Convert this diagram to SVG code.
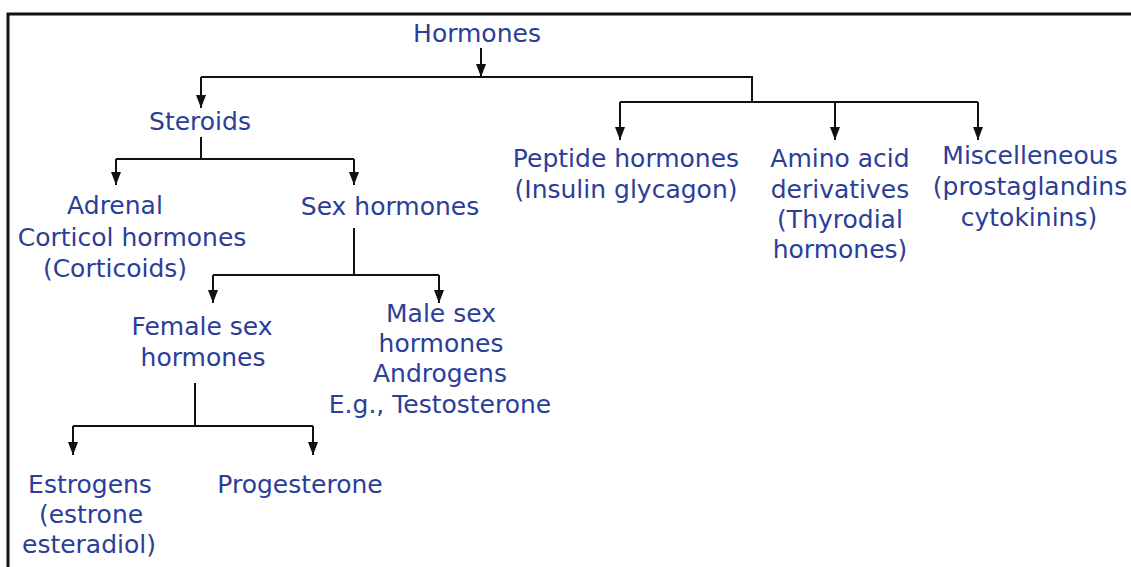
<svg xmlns="http://www.w3.org/2000/svg" width="1131" height="567" viewBox="0 0 1131 567">
<style>
text{font-family:"DejaVu Sans","Verdana",sans-serif;font-size:25px;fill:#2b3e98;text-anchor:middle}
.ln{fill:none;stroke:#111;stroke-width:2}
.ar{fill:none;stroke:#111;stroke-width:2;marker-end:url(#arr)}
</style>
<defs>
<marker id="arr" viewBox="0 -6 14 12" refX="13" refY="0" markerWidth="14" markerHeight="12" markerUnits="userSpaceOnUse" orient="auto">
<path d="M0,-5 L13,0 L0,5 Z" fill="#111"/>
</marker>
</defs>
<rect width="1131" height="567" fill="#fff"/>
<path d="M8,567 V14 H1131" fill="none" stroke="#111" stroke-width="3"/>
<g id="connectors">
<path class="ar" d="M481,48 V77"/>
<path class="ln" d="M201,77 H752 V102"/>
<path class="ar" d="M201,77 V108"/>
<path class="ln" d="M620,102 H978"/>
<path class="ar" d="M620,102 V140"/>
<path class="ar" d="M835,102 V140"/>
<path class="ar" d="M978,102 V140"/>
<path class="ln" d="M201,137 V159 M116,159 H354"/>
<path class="ar" d="M116,159 V185"/>
<path class="ar" d="M354,159 V185"/>
<path class="ln" d="M354,228 V275 M213,275 H439"/>
<path class="ar" d="M213,275 V303"/>
<path class="ar" d="M439,275 V303"/>
<path class="ln" d="M195,383 V426 M73,426 H313"/>
<path class="ar" d="M73,426 V455"/>
<path class="ar" d="M313,426 V455"/>
</g>
<g id="hormones"><text x="477" y="42">Hormones</text></g>
<g id="steroids"><text x="200" y="130">Steroids</text></g>
<g id="adrenal"><text x="115" y="214">Adrenal</text><text x="132" y="246">Corticol hormones</text><text x="115" y="277">(Corticoids)</text></g>
<g id="sex-hormones"><text x="390" y="215">Sex hormones</text></g>
<g id="female"><text x="202" y="335">Female sex</text><text x="203" y="366">hormones</text></g>
<g id="male"><text x="441" y="322">Male sex</text><text x="441" y="352">hormones</text><text x="440" y="382">Androgens</text><text x="440" y="413">E.g., Testosterone</text></g>
<g id="estrogens"><text x="90" y="493">Estrogens</text><text x="91" y="523">(estrone</text><text x="89" y="553">esteradiol)</text></g>
<g id="progesterone"><text x="300" y="493">Progesterone</text></g>
<g id="peptide"><text x="626" y="167">Peptide hormones</text><text x="626" y="198">(Insulin glycagon)</text></g>
<g id="amino"><text x="840" y="167">Amino acid</text><text x="840" y="198">derivatives</text><text x="840" y="228">(Thyrodial</text><text x="840" y="258">hormones)</text></g>
<g id="misc"><text x="1030" y="164">Miscelleneous</text><text x="1030" y="195">(prostaglandins</text><text x="1029" y="226">cytokinins)</text></g>
</svg>
